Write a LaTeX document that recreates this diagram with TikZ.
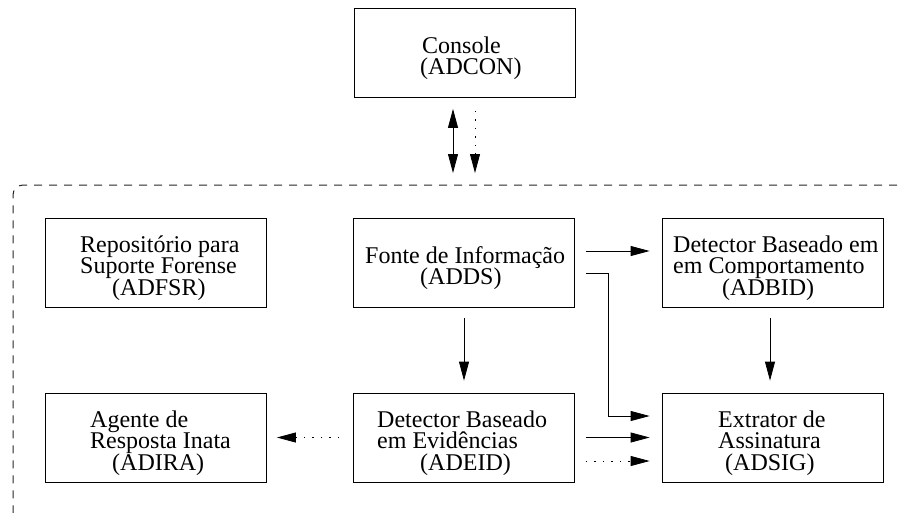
\documentclass[tikz,border=0pt]{standalone}
\usepackage{fontspec}
\setmainfont{Liberation Serif}
\usetikzlibrary{arrows.meta}

\begin{document}
\begin{tikzpicture}[x=1pt,y=-1pt,
  box/.style={draw, line width=0.8pt, minimum width=221pt, minimum height=89pt, inner sep=0pt},
  txt/.style={anchor=base west, inner sep=0pt, font=\fontsize{24}{24}\selectfont},
  flow/.style={line width=0.8pt, -{Triangle[length=19pt,width=10pt]}, shorten <=11pt, shorten >=12pt},
  dots/.style={dash pattern=on 1.5pt off 7pt},
  frame/.style={line width=1pt, black!85, dash pattern=on 8pt off 7pt, rounded corners=10pt}]
\useasboundingbox (0,0) rectangle (904,512);
% area of the agents
\draw [frame] (912,185) -- (13,185) -- (13,522) -- (912,522);
\coordinate (ring) at (464.5,185);
% boxes
\node [box] (console) at (464.5,53) {};
\node [box] (repo) at (156,262.5) {};
\node [box] (fonte) at (464,262.5) {};
\node [box] (comport) at (772.5,262.5) {};
\node [box] (agente) at (156,437.5) {};
\node [box] (evid) at (464,437.5) {};
\node [box] (extrator) at (772.5,437.5) {};
% texts
\node [txt] (console-1) at (422,53) {Console};
\node [txt] (console-2) at (420,74) {(ADCON)};
\node [txt] (repo-1) at (80,252) {Repositório para};
\node [txt] (repo-2) at (80,273.5) {Suporte Forense};
\node [txt] (repo-3) at (112,295) {(ADFSR)};
\node [txt] (fonte-1) at (365,263) {Fonte de Informação};
\node [txt] (fonte-2) at (420,284.5) {(ADDS)};
\node [txt] (comport-1) at (673,252) {Detector Baseado em};
\node [txt] (comport-2) at (673,273.5) {em Comportamento};
\node [txt] (comport-3) at (722,295) {(ADBID)};
\node [txt] (agente-1) at (90,427) {Agente de};
\node [txt] (agente-2) at (90,448.5) {Resposta Inata};
\node [txt] (agente-3) at (112,470) {(ADIRA)};
\node [txt] (evid-1) at (377,427) {Detector Baseado};
\node [txt] (evid-2) at (377,448.5) {em Evidências};
\node [txt] (evid-3) at (420,470) {(ADEID)};
\node [txt] (extrator-1) at (718,427) {Extrator de};
\node [txt] (extrator-2) at (718,448.5) {Assinatura};
\node [txt] (extrator-3) at (725,470) {(ADSIG)};
% connectors
\draw [flow, {Triangle[length=19pt,width=10pt]}-{Triangle[length=19pt,width=10pt]}] ([xshift=-11.5pt]console.south) -- ([xshift=-11.5pt]ring);
\draw [flow, dots, shorten <=13pt] ([xshift=10.5pt]console.south) -- ([xshift=10.5pt]ring);
\draw [flow] ([yshift=11.5pt]fonte.east) -- ([yshift=11.5pt]comport.west);
\draw [flow] ([yshift=-10.5pt]fonte.east) -- ++(33,0) |- ([yshift=21.5pt]extrator.west);
\draw [flow] (fonte.south) -- (evid.north);
\draw [flow] ([xshift=-2.5pt]comport.south) -- ([xshift=-2.5pt]extrator.north);
\draw [flow] (evid.east) -- (extrator.west);
\draw [flow, dots] ([yshift=-23.5pt]evid.east) -- ([yshift=-23.5pt]extrator.west);
\draw [flow, dots, shorten <=14pt, shorten >=10pt] (evid.west) -- (agente.east);
\end{tikzpicture}
\end{document}
